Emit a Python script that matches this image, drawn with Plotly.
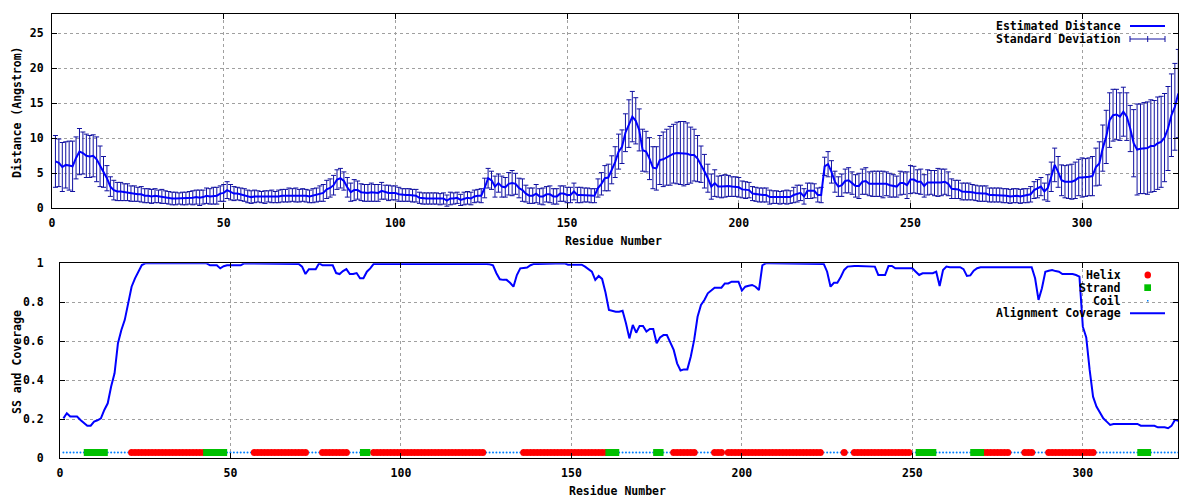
import plotly.graph_objects as go

# ---------------- data ----------------
residues = list(range(1, 329))

distance = [
    6.7, 6.5, 5.9, 6.2, 6.1, 6.0, 7.2, 8.1, 7.9, 7.5,
    7.4, 7.5, 7.0, 6.0, 5.2, 4.3, 3.1, 2.6, 2.4, 2.4,
    2.3, 2.3, 2.1, 2.1, 2.0, 2.0, 1.8, 1.8, 1.7, 1.8,
    1.7, 1.7, 1.6, 1.5, 1.4, 1.4, 1.4, 1.4, 1.4, 1.5,
    1.5, 1.6, 1.5, 1.6, 1.8, 1.7, 1.8, 1.8, 2.1, 2.2,
    2.6, 2.3, 2.1, 2.1, 2.0, 1.9, 1.7, 1.6, 1.7, 1.7,
    1.6, 1.6, 1.7, 1.7, 1.6, 1.7, 1.8, 1.8, 1.9, 1.9,
    1.9, 1.8, 1.9, 1.8, 1.7, 1.8, 1.9, 2.1, 2.2, 2.7,
    2.9, 3.3, 4.1, 4.3, 3.9, 3.0, 2.3, 2.6, 2.6, 2.3,
    2.2, 2.2, 2.3, 2.2, 2.2, 2.5, 2.3, 2.2, 2.2, 2.2,
    2.0, 1.9, 1.9, 1.9, 1.8, 1.8, 1.5, 1.4, 1.4, 1.4,
    1.4, 1.4, 1.3, 1.4, 1.1, 1.4, 1.4, 1.5, 1.2, 1.4,
    1.5, 1.4, 1.7, 1.8, 1.8, 2.9, 4.3, 4.0, 3.1, 3.6,
    3.1, 3.0, 3.5, 3.6, 3.5, 2.9, 2.6, 2.1, 1.8, 1.8,
    2.1, 1.7, 1.7, 2.0, 2.0, 1.7, 1.7, 2.1, 2.1, 1.9,
    1.9, 2.4, 1.9, 1.9, 1.9, 1.9, 1.8, 1.8, 2.9, 3.5,
    4.3, 4.4, 5.5, 6.6, 8.1, 8.8, 10.8, 12.1, 13.1, 12.5,
    11.2, 8.3, 8.1, 7.1, 5.8, 5.7, 6.9, 7.0, 7.3, 7.5,
    7.8, 7.9, 7.9, 7.8, 7.8, 7.6, 7.6, 7.1, 6.3, 5.3,
    4.3, 3.1, 3.6, 3.1, 3.1, 3.2, 3.2, 3.1, 3.1, 3.0,
    2.7, 2.6, 2.6, 2.1, 2.0, 1.9, 1.9, 1.9, 1.6, 1.6,
    1.6, 1.5, 1.6, 1.6, 1.6, 1.9, 2.1, 2.2, 1.7, 2.5,
    2.5, 2.5, 1.9, 1.9, 6.0, 6.3, 5.2, 3.8, 3.1, 3.3,
    3.9, 4.0, 3.6, 3.2, 3.2, 3.8, 3.9, 3.5, 3.5, 3.5,
    3.5, 3.4, 3.5, 3.3, 3.2, 3.1, 3.6, 3.6, 3.3, 4.1,
    4.1, 3.8, 3.8, 3.2, 3.7, 3.7, 3.6, 3.7, 3.7, 3.8,
    3.5, 2.8, 2.7, 2.7, 2.4, 2.4, 2.4, 2.3, 2.2, 2.1,
    2.1, 2.1, 1.9, 1.9, 1.9, 1.9, 1.8, 1.8, 1.7, 1.8,
    1.8, 1.7, 1.8, 1.8, 2.0, 2.6, 2.8, 3.1, 2.4, 2.9,
    4.5, 6.2, 5.2, 4.0, 3.8, 3.8, 3.8, 4.0, 4.4, 4.4,
    4.4, 4.5, 4.6, 5.9, 6.4, 8.6, 10.2, 12.6, 13.3, 13.4,
    13.1, 13.8, 13.1, 11.4, 9.3, 8.4, 8.5, 8.6, 8.6, 8.9,
    8.9, 9.3, 9.5, 10.1, 11.4, 13.3, 14.5, 16.4,
]

std_dev = [
    3.7, 3.4, 3.5, 3.3, 3.5, 3.6, 3.0, 3.3, 3.0, 3.1,
    3.0, 3.0, 3.2, 2.9, 2.2, 1.8, 1.4, 1.4, 1.3, 1.3,
    1.2, 1.2, 1.1, 1.1, 1.0, 1.1, 1.0, 1.0, 1.0, 1.0,
    0.9, 1.0, 0.9, 0.9, 0.9, 0.9, 0.8, 0.9, 0.9, 0.9,
    1.0, 1.0, 1.1, 1.0, 1.1, 1.1, 1.2, 1.2, 1.1, 1.2,
    1.2, 1.1, 1.0, 0.9, 0.9, 0.9, 0.9, 0.9, 0.9, 0.8,
    0.8, 0.9, 0.8, 0.9, 0.8, 0.9, 0.9, 0.9, 1.0, 0.9,
    1.0, 0.9, 0.9, 0.9, 0.9, 1.0, 1.0, 1.1, 1.2, 1.3,
    1.3, 1.4, 1.4, 1.4, 1.3, 1.4, 1.3, 1.5, 1.3, 1.2,
    1.2, 1.2, 1.3, 1.2, 1.2, 1.2, 1.0, 1.1, 1.0, 1.0,
    1.0, 0.9, 0.9, 0.9, 0.9, 0.9, 0.8, 0.8, 0.8, 0.8,
    0.8, 0.8, 0.8, 0.8, 0.8, 0.9, 0.8, 0.8, 0.8, 0.9,
    0.9, 0.9, 0.9, 0.9, 1.0, 1.4, 1.4, 1.3, 1.5, 1.3,
    1.5, 1.4, 1.6, 1.8, 1.5, 1.4, 1.6, 1.2, 1.1, 1.1,
    1.3, 1.1, 1.2, 1.1, 1.2, 1.1, 1.1, 1.1, 1.1, 1.1,
    1.1, 1.2, 1.1, 1.1, 1.0, 1.0, 1.0, 1.0, 1.3, 1.6,
    1.8, 1.9, 2.0, 2.2, 2.5, 2.4, 2.7, 3.4, 3.6, 3.3,
    3.0, 3.0, 2.9, 3.0, 3.0, 3.1, 3.5, 3.9, 4.0, 4.2,
    4.2, 4.4, 4.5, 4.6, 4.4, 4.0, 3.7, 3.3, 2.6, 2.4,
    2.0, 1.8, 1.9, 1.5, 1.6, 1.6, 1.5, 1.4, 1.4, 1.4,
    1.2, 1.2, 1.1, 1.0, 1.0, 1.0, 1.0, 1.0, 1.0, 0.9,
    0.9, 0.9, 0.9, 1.0, 0.9, 1.1, 1.2, 1.1, 1.1, 1.1,
    1.1, 1.0, 1.0, 1.1, 1.3, 1.8, 1.6, 1.5, 1.4, 1.6,
    1.7, 1.8, 1.6, 1.6, 1.8, 1.8, 1.9, 1.7, 1.8, 1.8,
    1.8, 1.9, 1.7, 1.7, 1.6, 1.5, 1.7, 1.6, 1.9, 2.0,
    1.9, 1.7, 1.8, 1.6, 1.8, 1.7, 1.8, 2.0, 1.9, 1.8,
    1.7, 1.4, 1.3, 1.3, 1.2, 1.2, 1.2, 1.1, 1.1, 1.1,
    1.1, 1.1, 1.0, 1.0, 1.0, 1.0, 1.0, 1.0, 1.0, 1.0,
    1.0, 1.0, 1.0, 1.0, 1.1, 1.2, 1.3, 1.3, 1.2, 1.9,
    2.1, 2.4, 2.2, 2.2, 2.3, 2.4, 2.5, 2.6, 2.6, 2.8,
    2.7, 2.7, 2.8, 2.7, 3.1, 3.3, 3.8, 3.9, 3.7, 3.6,
    3.4, 3.5, 3.4, 3.3, 4.8, 6.5, 6.4, 6.5, 6.6, 6.6,
    6.5, 6.6, 6.5, 6.3, 6.0, 5.9, 6.2, 6.3,
]

coverage = [
    0.205, 0.231, 0.214, 0.214, 0.214, 0.197, 0.18, 0.167, 0.167, 0.188,
    0.195, 0.205, 0.248, 0.282, 0.368, 0.436, 0.59, 0.658, 0.71, 0.795,
    0.88, 0.923, 0.957, 0.991, 1.0, 1.0, 1.0, 1.0, 1.0, 1.0,
    1.0, 1.0, 1.0, 1.0, 1.0, 1.0, 1.0, 1.0, 1.0, 1.0,
    1.0, 1.0, 1.0, 0.99, 0.99, 0.99, 0.974, 0.985, 0.99, 0.99,
    0.99, 0.99, 0.99, 1.0, 1.0, 1.0, 1.0, 1.0, 1.0, 1.0,
    1.0, 1.0, 1.0, 1.0, 1.0, 1.0, 1.0, 1.0, 1.0, 0.997,
    0.983, 0.945, 0.97, 0.97, 0.97, 1.0, 0.99, 0.99, 0.99, 0.99,
    0.95, 0.945, 0.96, 0.97, 0.945, 0.945, 0.95, 0.923, 0.923, 0.957,
    0.974, 0.997, 0.997, 0.997, 1.0, 1.0, 1.0, 1.0, 1.0, 1.0,
    1.0, 1.0, 1.0, 1.0, 1.0, 1.0, 1.0, 1.0, 1.0, 1.0,
    1.0, 1.0, 1.0, 1.0, 1.0, 1.0, 1.0, 1.0, 1.0, 1.0,
    1.0, 1.0, 1.0, 1.0, 0.997, 0.995, 0.99, 0.949, 0.918, 0.915,
    0.915, 0.9, 0.88, 0.94, 0.974, 0.976, 0.978, 0.99, 0.997, 0.997,
    0.997, 0.997, 0.997, 0.997, 0.997, 0.997, 1.0, 1.0, 0.993, 0.993,
    0.993, 0.993, 0.993, 0.983, 0.97, 0.957, 0.915, 0.935, 0.92, 0.85,
    0.761, 0.755, 0.752, 0.752, 0.757, 0.692, 0.615, 0.684, 0.644, 0.679,
    0.679, 0.65, 0.663, 0.663, 0.59, 0.62, 0.632, 0.632, 0.598, 0.556,
    0.487, 0.45, 0.456, 0.456, 0.521, 0.607, 0.726, 0.786, 0.812, 0.846,
    0.86, 0.875, 0.875, 0.875, 0.897, 0.897, 0.906, 0.906, 0.906, 0.86,
    0.88, 0.885, 0.889, 0.88, 0.863, 0.99, 1.0, 1.0, 1.0, 1.0,
    1.0, 0.997, 0.997, 1.0, 1.0, 0.997, 0.997, 0.997, 0.997, 0.997,
    0.997, 0.997, 0.997, 0.997, 0.957, 0.88, 0.9, 0.9, 0.93, 0.966,
    0.983, 0.986, 0.986, 0.986, 0.986, 0.986, 0.986, 0.986, 0.983, 0.94,
    0.94, 0.94, 0.986, 0.986, 0.974, 0.974, 0.974, 0.974, 0.974, 0.974,
    0.957, 0.94, 0.949, 0.949, 0.949, 0.949, 0.957, 0.884, 0.966, 0.983,
    0.98, 0.98, 0.98, 0.98, 0.97, 0.935, 0.938, 0.962, 0.975, 0.98,
    0.98, 0.98, 0.98, 0.98, 0.98, 0.98, 0.98, 0.98, 0.98, 0.98,
    0.98, 0.98, 0.98, 0.98, 0.98, 0.923, 0.812, 0.872, 0.957, 0.962,
    0.966, 0.96, 0.957, 0.945, 0.945, 0.945, 0.945, 0.94, 0.932, 0.675,
    0.62, 0.453, 0.316, 0.265, 0.231, 0.205, 0.188, 0.171, 0.176, 0.176,
    0.176, 0.176, 0.176, 0.176, 0.176, 0.176, 0.167, 0.167, 0.167, 0.167,
    0.167, 0.159, 0.159, 0.159, 0.154, 0.166, 0.197, 0.193,
]

helix_ranges = [(21, 42), (57, 72), (77, 84), (92, 124), (136, 160), (180, 186),
                (192, 194), (196, 223), (230, 230), (233, 249), (271, 278),
                (283, 285), (290, 303)]
strand_ranges = [(8, 13), (43, 48), (89, 90), (161, 163), (175, 176),
                 (252, 256), (268, 270), (317, 319)]
SS_LEVEL = 0.03

x_ticks = [0, 50, 100, 150, 200, 250, 300]
y1_ticks = [0, 5, 10, 15, 20, 25]
y2_ticks = [0, 0.2, 0.4, 0.6, 0.8, 1]
y2_ticktext = ["0", "0.2", "0.4", "0.6", "0.8", "1"]

# ---------------- derived ----------------
def ss_of(r):
    for a, b in helix_ranges:
        if a <= r <= b:
            return "H"
    for a, b in strand_ranges:
        if a <= r <= b:
            return "E"
    return "C"

ss = [ss_of(r) for r in residues]
hx = [r for r, s in zip(residues, ss) if s == "H"]
ex = [r for r, s in zip(residues, ss) if s == "E"]
cx = [r for r, s in zip(residues, ss) if s == "C"]

# the page body adds an 8px margin, so the figure is drawn at (8, 8)
OFF = 8
W, H = 1200 - OFF, 500 - OFF
def PX(p):
    return (p - OFF) / W
def PY(p):
    return 1 - (p - OFF) / H

FONT = dict(family="DejaVu Sans Mono", size=11.5, color="black", weight="bold")
BLUE = "#0000ff"
NAVY = "#1010a0"
RED = "#ff0000"
GREEN = "#00c000"
COIL = "#0080ff"
GRID = "#a0a0a0"

fig = go.Figure()

# top: error bars + distance line
fig.add_trace(go.Scatter(
    x=residues, y=distance, mode="markers",
    marker=dict(size=1, color="rgba(0,0,0,0)"),
    error_y=dict(type="data", array=std_dev, color=NAVY, thickness=1, width=2.5),
    xaxis="x", yaxis="y", showlegend=False, hoverinfo="skip"))
fig.add_trace(go.Scatter(
    x=residues, y=distance, mode="lines",
    line=dict(color=BLUE, width=2),
    xaxis="x", yaxis="y", showlegend=False))

# bottom: SS track and coverage
fig.add_trace(go.Scatter(
    x=cx, y=[SS_LEVEL] * len(cx), mode="markers",
    marker=dict(symbol="circle", size=2, color=COIL, line=dict(width=0)),
    xaxis="x2", yaxis="y2", showlegend=False))
fig.add_trace(go.Scatter(
    x=hx, y=[SS_LEVEL] * len(hx), mode="markers",
    marker=dict(symbol="circle", size=7, color=RED, line=dict(width=0)),
    xaxis="x2", yaxis="y2", showlegend=False))
fig.add_trace(go.Scatter(
    x=ex, y=[SS_LEVEL] * len(ex), mode="markers",
    marker=dict(symbol="square", size=7, color=GREEN, line=dict(width=0)),
    xaxis="x2", yaxis="y2", showlegend=False))
fig.add_trace(go.Scatter(
    x=residues, y=coverage, mode="lines",
    line=dict(color=BLUE, width=2),
    xaxis="x2", yaxis="y2", showlegend=False))

axis_common = dict(
    showline=True, linecolor="black", linewidth=1, mirror="ticks",
    ticks="inside", ticklen=5, tickcolor="black", tickwidth=1,
    showgrid=True, gridcolor=GRID, gridwidth=1, griddash="dot",
    zeroline=False, tickfont=FONT, fixedrange=True, automargin=False,
)

fig.update_layout(
    template="none",
    width=W, height=H,
    margin=dict(l=0, r=0, t=0, b=0, pad=0),
    paper_bgcolor="white", plot_bgcolor="white",
    showlegend=False,
    xaxis=dict(domain=[PX(52), PX(1178.3)], range=[0, 328], anchor="y",
               tickvals=x_ticks, ticklabelstandoff=4, **axis_common),
    yaxis=dict(domain=[PY(208.3), PY(14)], range=[0, 27.76], anchor="x",
               tickvals=y1_ticks, ticklabelstandoff=5, **axis_common),
    xaxis2=dict(domain=[PX(60), PX(1178.3)], range=[0, 328], anchor="y2",
                tickvals=x_ticks, ticklabelstandoff=4, **axis_common),
    yaxis2=dict(domain=[PY(458.3), PY(263.3)], range=[0, 1], anchor="x2",
                tickvals=y2_ticks, ticktext=y2_ticktext, ticklabelstandoff=13,
                **axis_common),
)

shapes = []
# white areas hiding the grid behind the keys
shapes.append(dict(type="rect", xref="paper", yref="paper", layer="between",
                   x0=PX(997), x1=PX(1177), y0=PY(47), y1=PY(16),
                   fillcolor="white", line=dict(width=0)))
shapes.append(dict(type="rect", xref="paper", yref="paper", layer="between",
                   x0=PX(997), x1=PX(1177), y0=PY(321), y1=PY(266),
                   fillcolor="white", line=dict(width=0)))

def hline(x0, x1, y, color, width):
    return dict(type="line", xref="paper", yref="paper",
                x0=PX(x0), x1=PX(x1), y0=PY(y), y1=PY(y),
                line=dict(color=color, width=width))

def vline(x, y0, y1, color, width):
    return dict(type="line", xref="paper", yref="paper",
                x0=PX(x), x1=PX(x), y0=PY(y0), y1=PY(y1),
                line=dict(color=color, width=width))

# top key samples
shapes.append(hline(1130, 1165, 26, BLUE, 2))
shapes.append(hline(1130, 1165, 39, NAVY, 1))
shapes.append(vline(1130, 36, 42, NAVY, 1))
shapes.append(vline(1165, 36, 42, NAVY, 1))
shapes.append(vline(1147.7, 36, 42, NAVY, 1))
# bottom key samples
shapes.append(dict(type="circle", xref="paper", yref="paper",
                   x0=PX(1144.5), x1=PX(1151), y0=PY(278.5), y1=PY(271.5),
                   fillcolor=RED, line=dict(width=0)))
shapes.append(dict(type="rect", xref="paper", yref="paper",
                   x0=PX(1144.3), x1=PX(1151), y0=PY(291), y1=PY(284.3),
                   fillcolor=GREEN, line=dict(width=0)))
shapes.append(dict(type="rect", xref="paper", yref="paper",
                   x0=PX(1147), x1=PX(1148.5), y0=PY(301.5), y1=PY(300),
                   fillcolor=COIL, line=dict(width=0)))
shapes.append(hline(1130, 1165, 313.3, BLUE, 2))
fig.update_layout(shapes=shapes)

ann = []
def key_text(text, y):
    return dict(text=text, xref="paper", yref="paper", x=PX(1123), y=PY(y),
                xanchor="right", yanchor="middle", showarrow=False, font=FONT)

ann.append(key_text("Estimated Distance", 26))
ann.append(key_text("Standard Deviation", 39))
ann.append(key_text("Helix", 275))
ann.append(key_text("Strand", 287.7))
ann.append(key_text("Coil", 300.7))
ann.append(key_text("Alignment Coverage", 313.3))

# axis titles
ann.append(dict(text="Residue Number", xref="paper", yref="paper",
                x=PX(613), y=PY(241), xanchor="center", yanchor="middle",
                showarrow=False, font=FONT))
ann.append(dict(text="Residue Number", xref="paper", yref="paper",
                x=PX(617), y=PY(491), xanchor="center", yanchor="middle",
                showarrow=False, font=FONT))
ann.append(dict(text="Distance (Angstrom)", xref="paper", yref="paper",
                x=PX(9), y=PY(112), xanchor="left", yanchor="middle",
                textangle=-90, showarrow=False, font=FONT, borderpad=0))
ann.append(dict(text="SS and Coverage", xref="paper", yref="paper",
                x=PX(9), y=PY(362), xanchor="left", yanchor="middle",
                textangle=-90, showarrow=False, font=FONT, borderpad=0))
fig.update_layout(annotations=ann)

fig.write_html("out.html")
